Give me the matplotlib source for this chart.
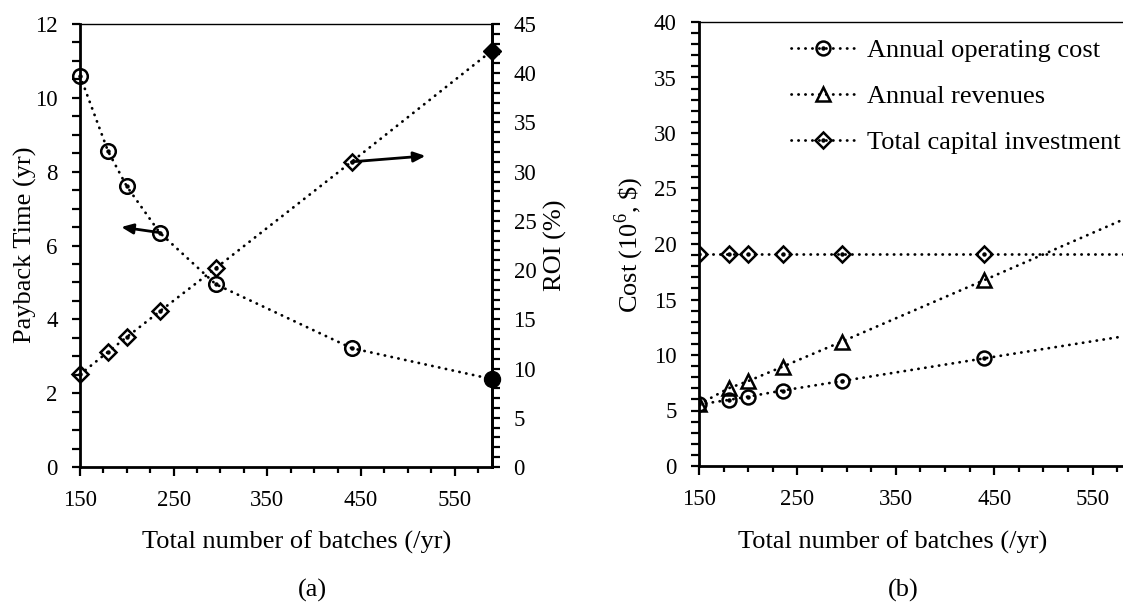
import matplotlib
matplotlib.use("Agg")
import matplotlib.pyplot as plt
from matplotlib.ticker import MultipleLocator, FixedLocator
from matplotlib.legend_handler import HandlerTuple

plt.rcParams['font.family'] = ['Liberation Serif', 'DejaVu Serif']
plt.rcParams['mathtext.fontset'] = 'custom'
plt.rcParams['mathtext.rm'] = 'Liberation Serif'

# ---- data (a) ----
batches = [150, 180, 200, 235, 295, 440, 590]
payback = [10.6, 8.55, 7.6, 6.35, 4.95, 3.22, 2.38]
roi = [9.4, 11.7, 13.2, 15.8, 20.2, 31.0, 42.3]

# ---- data (b) ----
op_cost = [5.55, 5.95, 6.25, 6.8, 7.65, 9.7, 11.8]
revenue = [5.55, 7.0, 7.65, 8.95, 11.2, 16.75, 22.55]
capital = [19.1, 19.1, 19.1, 19.1, 19.1, 19.1, 19.1]

xticks = [150, 250, 350, 450, 550]
xlabel = 'Total number of batches (/yr)'

FS = 16.5    # tick labels
FT = 19      # text labels
LS = (0, (0.1, 2.4))
LW = 2.0

fig = plt.figure(figsize=(11.23, 6.04), dpi=100)
W, H = 1123, 604

def fax(l, t, r, b):
    return fig.add_axes([l / W, 1 - b / H, (r - l) / W, (b - t) / H])

def ftext(x, y, s, **kw):
    fig.text(x / W, 1 - y / H, s, fontsize=FT, ha='center', va='center', **kw)

def style_axis(ax, right=False):
    for s in ['left', 'bottom']:
        ax.spines[s].set_linewidth(2.0)
    ax.spines['top'].set_linewidth(1.0)
    ax.spines['right'].set_linewidth(2.0 if right else 1.0)
    ax.tick_params(axis='both', which='both', direction='out', labelsize=FS,
                   width=1.6)
    ax.tick_params(axis='x', which='major', length=6.5, pad=10)
    ax.tick_params(axis='x', which='minor', length=4.5)
    ax.tick_params(axis='y', which='both', length=5.5, pad=10.5)

def dotline(axis, x, y, **kw):
    axis.plot(x, y, color='black', linestyle=LS, lw=LW,
              dash_capstyle='round', **kw)

# ---------------- (a) ----------------
ax = fax(80, 24, 492, 467)
ax2 = ax.twinx()
ax.set_xlim(150, 590)
ax.set_ylim(0, 12)
ax2.set_ylim(0, 45)
style_axis(ax, right=True)
ax2.spines['right'].set_linewidth(2.0)
ax2.spines['top'].set_visible(False)
ax2.spines['left'].set_visible(False)
ax2.spines['bottom'].set_visible(False)
ax2.tick_params(axis='y', which='both', direction='out', labelsize=FS,
                width=1.6, length=5.5, pad=10)

ax.xaxis.set_major_locator(FixedLocator(xticks))
ax.xaxis.set_minor_locator(MultipleLocator(25))
ax.yaxis.set_major_locator(MultipleLocator(2))
ax.yaxis.set_minor_locator(MultipleLocator(0.5))
ax2.yaxis.set_major_locator(MultipleLocator(5))
ax2.yaxis.set_minor_locator(MultipleLocator(1))

dotline(ax, batches, payback, zorder=2)
ax.plot(batches[:-1], payback[:-1], linestyle='none', marker='o', ms=10.5,
        mfc='none', mec='black', mew=1.8, zorder=3, clip_on=False)
ax.plot(batches[:-1], payback[:-1], linestyle='none', marker='o', ms=2.2,
        mfc='black', mec='black', zorder=3, clip_on=False)
ax.plot(batches[-1:], payback[-1:], linestyle='none', marker='o', ms=11.5,
        mfc='black', mec='black', zorder=3, clip_on=False)

dotline(ax2, batches, roi, zorder=2)
ax2.plot(batches[:-1], roi[:-1], linestyle='none', marker='D', ms=8.5,
         mfc='none', mec='black', mew=1.8, zorder=3, clip_on=False)
ax2.plot(batches[:-1], roi[:-1], linestyle='none', marker='o', ms=2.2,
         mfc='black', mec='black', zorder=3, clip_on=False)
ax2.plot(batches[-1:], roi[-1:], linestyle='none', marker='D', ms=9.5,
         mfc='black', mec='black', zorder=3, clip_on=False)

ax.annotate('', xy=(194, 6.5), xytext=(235, 6.35),
            arrowprops=dict(arrowstyle='-|>,head_length=0.7,head_width=0.3',
                            lw=2, color='black', shrinkA=0, shrinkB=0))
ax2.annotate('', xy=(519, 31.6), xytext=(440, 31.0),
             arrowprops=dict(arrowstyle='-|>,head_length=0.7,head_width=0.3',
                             lw=2, color='black', shrinkA=0, shrinkB=0))

ftext(297, 542, xlabel)
ftext(25, 245, 'Payback Time (yr)', rotation=90)
ftext(555, 245, 'ROI (%)', rotation=90)
ftext(312, 590, '(a)')

# ---------------- (b) ----------------
bx = fax(699, 22, 1132, 466)
bx.set_xlim(150, 590)
bx.set_ylim(0, 40)
style_axis(bx)
bx.spines['right'].set_visible(False)
bx.xaxis.set_major_locator(FixedLocator(xticks))
bx.xaxis.set_minor_locator(MultipleLocator(25))
bx.yaxis.set_major_locator(MultipleLocator(5))
bx.yaxis.set_minor_locator(MultipleLocator(1))

series = [(op_cost, 'o', 10, True, 'Annual operating cost'),
          (revenue, '^', 10.5, False, 'Annual revenues'),
          (capital, 'D', 8.5, True, 'Total capital investment')]
handles = []
for vals, mk, ms, cdot, lab in series:
    h, = bx.plot(batches, vals, color='black', linestyle=LS, lw=LW,
                 dash_capstyle='round', marker=mk, ms=ms, mfc='none',
                 mec='black', mew=1.8, label=lab, zorder=3)
    if cdot:
        d, = bx.plot(batches, vals, linestyle='none', marker='o', ms=2.2,
                     mfc='black', mec='black', zorder=3)
        handles.append((h, d))
    else:
        handles.append((h,))

ftext(629, 245, 'Cost (10$^{6}$, \\$)', rotation=90)
ftext(893, 542, xlabel)
leg = bx.legend(handles=handles, labels=[s[4] for s in series],
                handler_map={tuple: HandlerTuple(ndivide=1)},
                loc='upper left',
                bbox_to_anchor=(791 / W, 1 - 39 / H),
                bbox_transform=fig.transFigure, frameon=False, fontsize=FT,
                handlelength=2.42, handletextpad=0.45, labelspacing=0.85,
                borderpad=0, borderaxespad=0)
ftext(903, 590, '(b)')

fig.savefig('out.png', dpi=100)
